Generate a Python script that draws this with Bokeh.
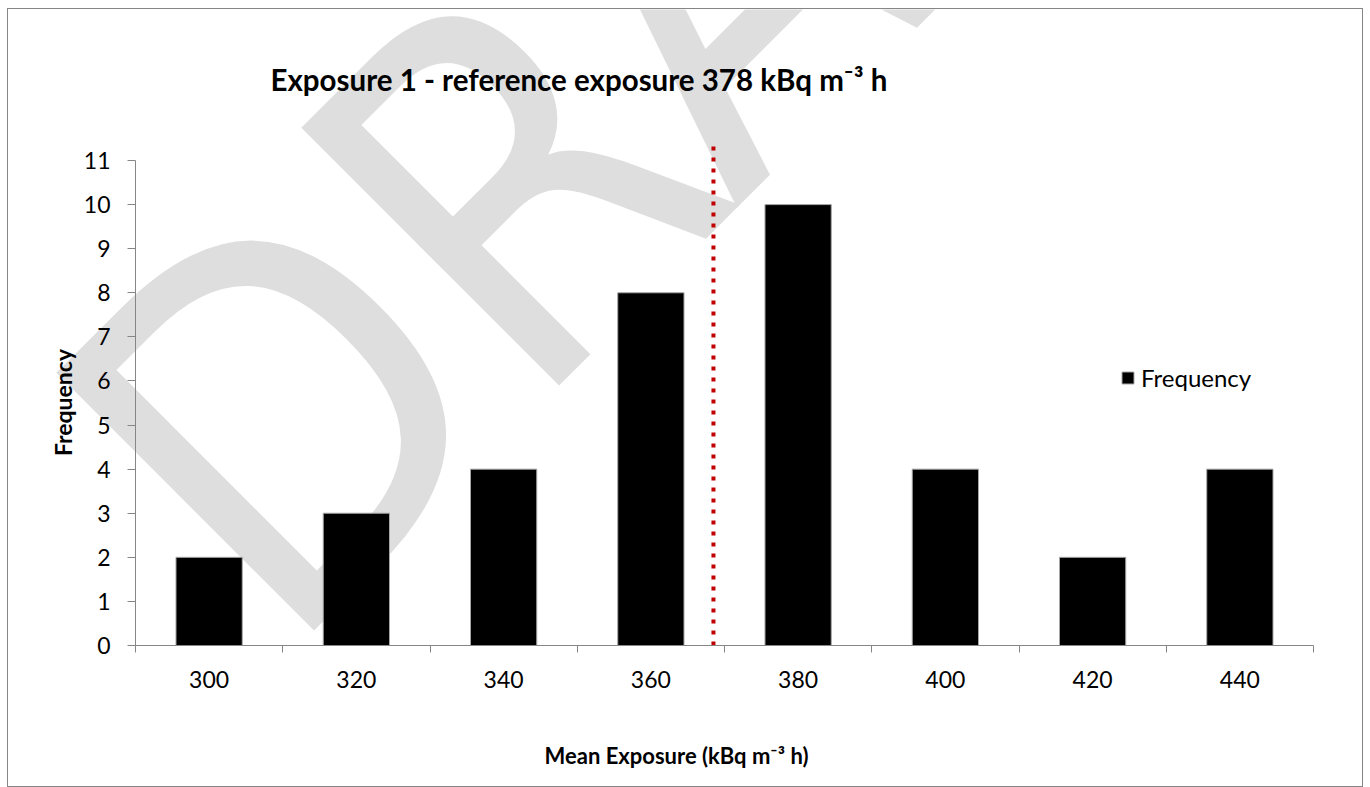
from bokeh.plotting import figure
from bokeh.models import FixedTicker, Label, Legend, LegendItem, Range1d, GridBox
from bokeh.embed import file_html
from bokeh.resources import INLINE

# ---- data ----
categories = ["300", "320", "340", "360", "380", "400", "420", "440"]
frequency = [2, 3, 4, 8, 10, 4, 2, 4]
y_ticks = list(range(0, 12))
reference_line_x = 3.925      # dotted reference marker, in bin-axis units
reference_line_top = 11.34
title_text = "Exposure 1 - reference exposure 378 kBq m\u207b\u00b3 h"
x_label = "Mean Exposure (kBq m\u207b\u00b3 h)"
y_label = "Frequency"
legend_label = "Frequency"
watermark_text = "DRAFT"

n = len(categories)
centers = [i + 0.5 for i in range(n)]
edges = list(range(n + 1))

W, H = 1354, 777
FONT = "Lato"
AXIS_COLOR = "#868686"

# ---- background canvas: watermark, title and axis titles (pixel coordinates) ----
bg = figure(width=W, height=H, x_range=Range1d(0, W), y_range=Range1d(H, 0),
            x_axis_type=None, y_axis_type=None,
            output_backend="svg", toolbar_location=None, min_border=0)
bg.outline_line_color = None
bg.xgrid.visible = False
bg.ygrid.visible = False
bg.background_fill_color = "white"
bg.border_fill_color = "white"

wm = Label(x=152, y=530, text=watermark_text, angle=45, angle_units="deg",
           text_font="'Liberation Sans Narrow', 'DejaVu Sans Condensed', Lato",
           text_font_size="500px", text_color="#DEDEDE",
           text_baseline="alphabetic", text_align="left")
bg.add_layout(wm)

title = Label(x=262, y=70, text=title_text, text_font=FONT,
              text_font_style="bold", text_font_size="29.5px", text_color="black",
              text_baseline="alphabetic", text_align="left")
bg.add_layout(title)

xlab = Label(x=668, y=746, text=x_label, text_font=FONT,
             text_font_style="bold", text_font_size="22px", text_color="black",
             text_baseline="middle", text_align="center")
bg.add_layout(xlab)

ylab = Label(x=54, y=393, text=y_label, angle=90, angle_units="deg", text_font=FONT,
             text_font_style="bold", text_font_size="23px", text_color="black",
             text_baseline="middle", text_align="center")
bg.add_layout(ylab)

# ---- chart ----
p = figure(width=W, height=H,
           x_range=Range1d(0, n), y_range=Range1d(0, 11.454),
           output_backend="svg", toolbar_location=None,
           min_border_left=127, min_border_right=49,
           min_border_top=131, min_border_bottom=141)
p.outline_line_color = None
p.xgrid.visible = False
p.ygrid.visible = False
p.background_fill_color = None
p.border_fill_color = None

for fig in (bg, p):
    if "frame_align" in fig.properties():
        fig.frame_align = False

bars = p.vbar(x=centers, top=frequency, width=0.45,
              fill_color="black", line_color="#A6A6A6", line_width=1)

p.segment(x0=[reference_line_x], y0=[0], x1=[reference_line_x], y1=[reference_line_top],
          line_color="#C00000", line_width=4, line_dash="4 7", line_cap="butt")

# x axis
xa = p.xaxis[0]
xa.ticker = FixedTicker(ticks=centers, minor_ticks=edges)
xa.major_label_overrides = {c: lab for c, lab in zip(centers, categories)}
xa.bounds = (0, n)
xa.major_tick_out = 0
xa.major_tick_in = 0
xa.minor_tick_out = 7
xa.minor_tick_in = 0
xa.minor_tick_line_color = AXIS_COLOR
xa.axis_line_color = AXIS_COLOR
xa.major_label_text_font = FONT
xa.major_label_text_font_size = "23px"
xa.major_label_text_color = "black"
xa.major_label_standoff = 18

# y axis
ya = p.yaxis[0]
ya.ticker = FixedTicker(ticks=y_ticks)
ya.bounds = (0, 11)
ya.major_tick_out = 8
ya.major_tick_in = 0
ya.minor_tick_out = 0
ya.minor_tick_in = 0
ya.major_tick_line_color = AXIS_COLOR
ya.axis_line_color = AXIS_COLOR
ya.major_label_text_font = FONT
ya.major_label_text_font_size = "23px"
ya.major_label_text_color = "black"
ya.major_label_standoff = 17

legend = Legend(items=[LegendItem(label=legend_label, renderers=[bars])],
                location=(985, 253), border_line_color=None,
                background_fill_alpha=0, padding=0, margin=0, spacing=0,
                glyph_width=15, glyph_height=15, label_standoff=6,
                label_height=15, label_text_font=FONT,
                label_text_font_size="24px", label_text_color="black")
p.add_layout(legend)

layout = GridBox(children=[(bg, 0, 0), (p, 0, 0)])
layout.styles = {"border": "1px solid #868686", "margin-left": "7px", "margin-top": "8px"}

open("out.html", "w").write(file_html(layout, INLINE))
